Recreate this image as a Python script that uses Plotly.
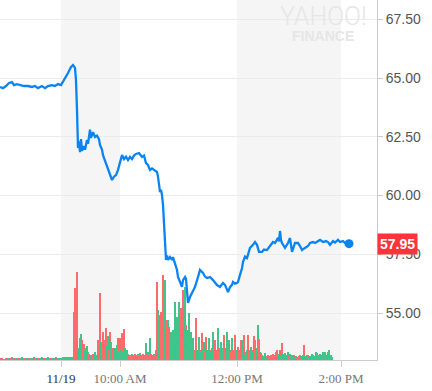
import plotly.graph_objects as go

# ---- data (x = minute index of the trading session) ----
price_x = [0, 3, 6, 9, 12, 14, 17, 20, 24, 28, 32, 35, 38, 42, 45, 48, 52, 55, 58, 61,
           63, 66, 68, 71, 73, 75, 76, 77, 77.5, 78, 79, 80, 81, 82, 84, 85, 87, 88, 90, 91, 93, 95, 97,
           99, 100, 102, 103, 106, 108, 110, 112, 114, 116, 118, 120, 122, 124, 126, 128,
           130, 132, 134, 136, 139, 142, 144, 146, 148, 150, 152, 154, 157, 158, 159, 160, 161, 162,
           163, 164, 165, 166, 167, 168, 170, 172, 173, 175, 177, 178, 180, 182, 183, 185,
           186, 187, 188, 190, 192, 193, 195, 198, 200, 203, 205, 207, 210, 213, 215, 217, 220,
           223, 225, 227, 228, 230, 232, 233, 235, 237, 238, 240, 242, 243, 245, 247, 250, 253,
           255, 257, 259, 262, 264, 267, 269, 271, 273, 275, 278, 279, 280, 281, 282, 285, 288,
           290, 292, 295, 298, 300, 302, 305, 308, 310, 313, 315, 318, 320, 323, 326, 328, 330,
           333, 335, 338, 340, 343, 345, 349]
price_y = [64.62, 64.57, 64.66, 64.79, 64.83, 64.70, 64.74, 64.70, 64.66, 64.66, 64.62, 64.66, 64.57,
           64.66, 64.57, 64.66, 64.70, 64.66, 64.74, 64.70,
           64.83, 65.04, 65.21, 65.47, 65.55, 65.43, 64.90, 63.64, 62.60, 62.02, 62.30, 61.85, 62.40,
           61.90, 62.10, 61.95, 62.36, 62.20, 62.80, 62.45, 62.70, 62.49, 62.55,
           62.40, 62.15, 61.95, 61.72, 61.38, 61.17, 60.95, 60.66, 60.80, 60.87, 61.09, 61.43,
           61.72, 61.55, 61.65, 61.51,
           61.64, 61.55, 61.70, 61.77, 61.81, 61.64, 61.70, 61.38, 61.30, 61.09, 61.15, 61.09, 61.00,
           60.80, 60.40, 60.15, 60.25, 60.02,
           59.60, 58.74, 57.89, 57.26, 57.45, 57.26, 57.38, 57.26, 57.38, 57.13, 56.83, 56.53, 56.30,
           56.11, 56.40, 56.53, 56.45, 55.85, 55.43, 55.68, 55.85, 55.95, 56.11, 56.53, 56.83,
           56.70, 56.55, 56.49, 56.53, 56.40, 56.30, 56.19, 56.11, 56.28, 56.20, 56.00, 55.89,
           56.10, 56.20, 56.32, 56.25, 56.28, 56.32, 56.62, 56.90, 57.17, 57.40, 57.34, 57.77, 57.90,
           58.02, 57.90, 57.60, 57.60, 57.70, 57.68, 57.80, 57.90, 58.02, 57.98, 58.20, 58.05, 58.49,
           58.10, 57.98, 57.77, 57.98, 58.19, 57.60, 57.98, 57.98, 57.85, 57.68, 57.77, 57.85,
           57.98, 58.02, 57.98, 58.06, 58.11, 58.02, 58.06, 58.02, 57.90, 58.06, 58.00, 58.11, 58.02,
           58.06, 57.98, 57.95, 57.95]

pre_vol_x = list(range(0, 61, 2))
pre_vol = [1.5, 1.5, 1, 2.5, 2, 1.5, 3, 2, 2.5, 1.5, 2, 3, 2, 2.5, 1.5, 2, 2.5, 3, 2, 2.5, 1.5, 3,
           2, 2.5, 3, 2, 2.5, 2, 3, 2.5, 2]
pre_col = ["r", "r", "g", "r", "g", "r", "g", "r", "g", "r", "g", "g", "r", "g", "r", "g", "g",
           "r", "g", "r", "g", "g", "r", "g", "g", "r", "g", "g", "r", "g", "g"]

vol_x = list(range(62, 333))
vol = [2, 3, 2, 3, 2, 3, 2, 3, 2, 3, 2, 3,
       48, 72, 43, 88, 12, 10, 22, 26, 20, 15, 16, 10, 12, 14, 8, 6, 4, 5, 3, 6, 4, 8, 5, 4,
       20, 10, 67, 18, 8, 28, 12, 20, 32, 14, 24, 10, 28, 18, 10, 12, 8, 12, 10, 15, 22, 8, 22, 10,
       27, 8, 31, 12, 8, 10, 6, 5, 4, 5, 6, 4, 5, 6, 4, 5, 6, 4, 7, 5, 5, 6, 4, 5, 17, 6, 8, 5, 22,
       6, 5, 4, 6, 5, 10, 78, 50, 45, 40, 48, 30, 85, 60, 80, 40, 30, 40, 33, 25, 28, 20, 30, 22,
       58, 18, 43, 20, 58, 15, 52, 18, 70, 30, 73, 35, 30, 14, 47, 10, 28, 12, 22, 8, 10, 42, 10,
       8, 23, 10, 8, 27, 10, 18, 8, 23, 10, 8, 22, 10, 8, 12, 28, 10, 20, 8, 10, 32, 12, 10, 18, 8,
       12, 25, 10, 12, 28, 12, 20, 10, 8, 22, 10, 8, 25, 10, 8, 13, 8, 10, 20, 20, 10, 25, 5, 8,
       10, 25, 10, 8, 13, 10, 8, 24, 20, 10, 12, 35, 21, 8, 7, 5, 4, 3, 7, 4, 3, 5, 4, 3, 5, 4, 6,
       4, 5, 8, 10, 5, 6, 10, 4, 17, 6, 4, 7, 4, 5, 8, 4, 6, 3, 5, 4, 5, 3, 4, 3, 3, 4, 5, 3, 4, 5,
       15, 4, 3, 5, 5, 3, 4, 3, 6, 5, 3, 4, 8, 7, 4, 5, 6, 5, 4, 8, 4, 8, 5, 4, 8, 10, 4, 5, 3]
vol_col = list("gggggggggggg"
               "rrgrggrgrrrggggrgggrggrg"
               "rrrggrgrrggrrggrggggrgrg"
               "rgrggggrgrgrgrgrgrgrgrgrgr"
               "grgrgrgrrrggrrgrrgrrgrggrgr"
               "grgrggrgrggrgggrggggrrgggr"
               "grggrrgggrgrgrrgrgrggrgrrggrggrgrgrggrrgrg"
               "grgggrrggrgrrgggrgrrgrgrggrgrgrg"
               "rgrrgrgrgrgrggrgg"
               "rgrggrgrgr"
               "rgrgrgrg")

tick_vals = [61, 120, 237, 341]
tick_text = ["<span style='color:#333333'>11/19</span>", "10:00 AM", "12:00 PM", "2:00 PM"]
bands = [(61, 120), (237, 341)]
last_price = 57.95

RED = "#ff6b6b"
GREEN = "#3fc58a"
BLUE = "#0a84f0"

fig = go.Figure()

all_vx = pre_vol_x + vol_x
all_v = [v * 10 for v in pre_vol] + [v * 10 for v in vol]
cols = pre_col + vol_col[:len(vol)]
cols = cols + ["g"] * (len(all_v) - len(cols))
fig.add_trace(go.Bar(
    x=all_vx, y=all_v, yaxis="y2",
    marker=dict(color=[RED if c == "r" else GREEN for c in cols], line=dict(width=0)),
    width=0.85, hoverinfo="skip", showlegend=False))

fig.add_trace(go.Scatter(
    x=price_x, y=price_y, mode="lines",
    line=dict(color=BLUE, width=2.3), showlegend=False))
fig.add_trace(go.Scatter(
    x=[price_x[-1]], y=[last_price], mode="markers",
    marker=dict(color=BLUE, size=9), showlegend=False))

shapes = []
for a, b in bands:
    shapes.append(dict(type="rect", xref="x", yref="paper", x0=a, x1=b, y0=0, y1=1,
                       fillcolor="#f5f5f5", line=dict(width=0), layer="below"))

fig.update_layout(
    width=432, height=391,
    margin=dict(l=0, r=55, t=0, b=31, autoexpand=False),
    paper_bgcolor="white", plot_bgcolor="white",
    shapes=shapes,
    bargap=0,
    xaxis=dict(range=[0, 377], tickmode="array", tickvals=tick_vals, ticktext=tick_text,
               showgrid=False, zeroline=False, showline=True, linecolor="#cccccc",
               ticks="outside", ticklen=6, tickcolor="#cccccc", automargin=False,
               tickfont=dict(family="Liberation Serif", size=13, color="#777777")),
    yaxis=dict(side="right", range=[53.0, 68.32], tickmode="array",
               tickvals=[55, 57.5, 60, 62.5, 65, 67.5], tickformat=".2f",
               showgrid=True, gridcolor="#ebebeb", zeroline=False, automargin=False,
               showline=True, linecolor="#cccccc", ticks="outside", ticklen=5, tickcolor="#cccccc",
               tickfont=dict(family="Liberation Sans", size=14, color="#555555")),
    yaxis2=dict(overlaying="y", range=[0, 3600], visible=False),
    annotations=[
        dict(xref="paper", yref="paper", x=0.857, y=0.955, xanchor="center", yanchor="middle",
             text="YAHOO!", showarrow=False,
             font=dict(family="Roboto", size=25, weight=300, color="#e6e6e6")),
        dict(xref="paper", yref="paper", x=0.857, y=0.9, xanchor="center", yanchor="middle",
             text="<b>FINANCE</b>", showarrow=False,
             font=dict(family="Liberation Sans", size=14, color="#e6e6e6")),
        dict(xref="paper", yref="y", x=1.0, y=last_price, xanchor="left", text="<b>57.95</b>",
             showarrow=False, bgcolor="#ff333a", borderpad=2,
             font=dict(family="Liberation Sans", size=14, color="white")),
    ],
)

fig.write_html("out.html", config={"displayModeBar": False},
               post_script="document.body.style.margin='0';document.body.style.overflow='hidden';")
